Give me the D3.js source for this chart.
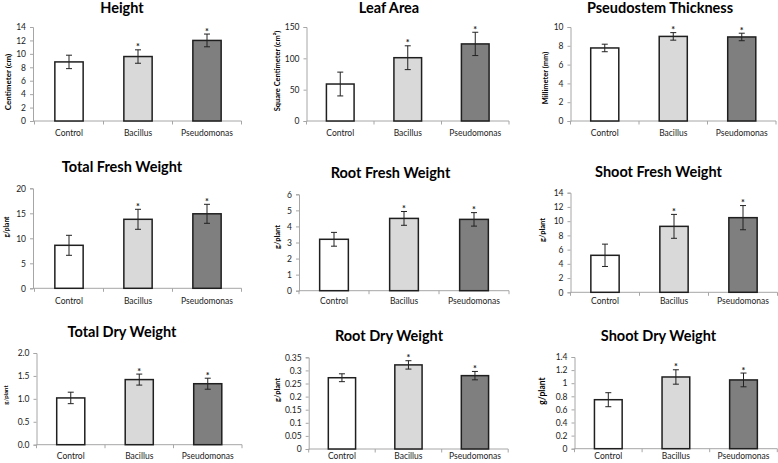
<!DOCTYPE html>
<html>
<head>
<meta charset="utf-8">
<script src="https://cdn.jsdelivr.net/npm/d3@7/dist/d3.min.js"></script>
<style>
  html, body { margin: 0; padding: 0; background: #fff; }
  svg { display: block; }
  text { font-family: Lato, "Open Sans", "Liberation Sans", sans-serif; }
</style>
</head>
<body>
<svg id="chart" width="778" height="463"></svg>
<script>
// ---------- DATA ----------
const categories = ["Control", "Bacillus", "Pseudomonas"];
const barColors = ["#ffffff", "#d9d9d9", "#7f7f7f"];

const titles = ["Height", "Leaf Area", "Pseudostem Thickness",
  "Total Fresh Weight", "Root Fresh Weight", "Shoot Fresh Weight",
  "Total Dry Weight", "Root Dry Weight", "Shoot Dry Weight"];
const yLabels = ["Centimeter (cm)", "Square Centimeter (cm²)", "Millimeter (mm)",
  "g/plant", "g/plant", "g/plant", "g/plant", "g/plant", "g/plant"];

const heightMean = [8.8, 9.6, 12.0];
const heightErr = [1.0, 1.0, 0.95];
const leafAreaMean = [59, 101, 123];
const leafAreaErr = [19, 19, 18.6];
const pseudostemMean = [7.77, 9.0, 8.94];
const pseudostemErr = [0.4, 0.4, 0.4];
const totalFreshMean = [8.6, 13.8, 14.9];
const totalFreshErr = [2.0, 2.0, 1.9];
const rootFreshMean = [3.2, 4.5, 4.44];
const rootFreshErr = [0.43, 0.43, 0.42];
const shootFreshMean = [5.2, 9.27, 10.49];
const shootFreshErr = [1.57, 1.68, 1.7];
const totalDryMean = [1.02, 1.42, 1.33];
const totalDryErr = [0.125, 0.12, 0.12];
const rootDryMean = [0.272, 0.321, 0.28];
const rootDryErr = [0.015, 0.016, 0.016];
const shootDryMean = [0.748, 1.095, 1.05];
const shootDryErr = [0.107, 0.11, 0.105];

const significant = [false, true, true];

const yTicks = [
  [0, 2, 4, 6, 8, 10, 12, 14],
  [0, 50, 100, 150],
  [0, 2, 4, 6, 8, 10],
  [0, 5, 10, 15, 20],
  [0, 1, 2, 3, 4, 5, 6],
  [0, 2, 4, 6, 8, 10, 12, 14],
  [0.0, 0.5, 1.0, 1.5, 2.0],
  [0, 0.05, 0.1, 0.15, 0.2, 0.25, 0.3, 0.35],
  [0, 0.2, 0.4, 0.6, 0.8, 1, 1.2, 1.4]
];
const tickFormats = ["d", "d", "d", "d", "d", "d", ".1f", "~g", "~g"];

const means = [heightMean, leafAreaMean, pseudostemMean, totalFreshMean, rootFreshMean,
  shootFreshMean, totalDryMean, rootDryMean, shootDryMean];
const errs = [heightErr, leafAreaErr, pseudostemErr, totalFreshErr, rootFreshErr,
  shootFreshErr, totalDryErr, rootDryErr, shootDryErr];

// ---------- LAYOUT (pixel frames per panel) ----------
const layout = [
  {ax: 33,    x0: 34.5,  band: 69,   top: 27,    zero: 121,   tx: 122,   ty: 13,   lx: 8,   ly: 82,  ls: 8,   cy: 136},
  {ax: 306.5, x0: 306.5, band: 67.5, top: 27,    zero: 121,   tx: 389,   ty: 13,   lx: 277, ly: 71,  ls: 7.5, cy: 136},
  {ax: 570.5, x0: 570.5, band: 68.5, top: 27,    zero: 121,   tx: 660,   ty: 13,   lx: 545, ly: 78,  ls: 7.5, cy: 136},
  {ax: 33,    x0: 34.5,  band: 69,   top: 188.3, zero: 288.3, tx: 122,   ty: 171.5, lx: 6, ly: 227, ls: 6.5, cy: 304},
  {ax: 299,   x0: 299,   band: 70,   top: 194.3, zero: 290.7, tx: 390.5, ty: 178,  lx: 277, ly: 237, ls: 7.5, cy: 304},
  {ax: 570.5, x0: 570.5, band: 69,   top: 192.7, zero: 292.3, tx: 658.5, ty: 176.5, lx: 542, ly: 230, ls: 7.5, cy: 304},
  {ax: 36.5,  x0: 36.5,  band: 68.5, top: 353,   zero: 444.7, tx: 122,   ty: 337,  lx: 5,   ly: 395, ls: 6,   cy: 459},
  {ax: 308.7, x0: 308.7, band: 66.5, top: 357.3, zero: 449,   tx: 389,   ty: 341,  lx: 277, ly: 390, ls: 7.5, cy: 459},
  {ax: 574.5, x0: 574.5, band: 67.6, top: 357,   zero: 448.7, tx: 658.5, ty: 341,  lx: 542, ly: 391, ls: 8.5, cy: 459}
];

const svg = d3.select("#chart");
const axisColor = "#a6a6a6";

titles.forEach((title, i) => {
  const L = layout[i];
  const g = svg.append("g");
  const ticks = yTicks[i];
  const y = d3.scaleLinear().domain([0, ticks[ticks.length - 1]]).range([L.zero, L.top]);
  const x = d3.scaleBand().domain(categories).range([L.x0, L.x0 + 3 * L.band]);
  const barW = x.bandwidth() * 0.41;

  // y axis
  const yAxis = d3.axisLeft(y).tickValues(ticks).tickSize(3).tickPadding(4)
    .tickFormat(d3.format(tickFormats[i]));
  const ya = g.append("g").attr("transform", `translate(${L.ax},0)`).call(yAxis);
  ya.select(".domain").attr("stroke", axisColor);
  ya.selectAll(".tick line").attr("stroke", axisColor);
  ya.selectAll(".tick text").attr("fill", "#222").style("font-size", "8.5px");

  // x axis line with separators
  g.append("line").attr("x1", L.ax).attr("x2", x.range()[1])
    .attr("y1", L.zero).attr("y2", L.zero).attr("stroke", axisColor);
  const seps = categories.map(c => x(c)).concat([x.range()[1]]);
  g.selectAll(".sep").data(seps).enter().append("line")
    .attr("x1", d => d).attr("x2", d => d)
    .attr("y1", L.zero).attr("y2", L.zero + 3.5).attr("stroke", axisColor);

  // category labels
  g.selectAll(".cat").data(categories).enter().append("text")
    .attr("x", c => x(c) + x.bandwidth() / 2).attr("y", L.cy)
    .attr("text-anchor", "middle").attr("fill", "#222")
    .style("font-size", "8.5px").text(c => c);

  // bars
  const rows = categories.map((c, k) => ({c, v: means[i][k], e: errs[i][k], k}));
  g.selectAll(".bar").data(rows).enter().append("rect")
    .attr("x", d => x(d.c) + (x.bandwidth() - barW) / 2)
    .attr("y", d => y(d.v))
    .attr("width", barW)
    .attr("height", d => y(0) - y(d.v))
    .attr("fill", d => barColors[d.k])
    .attr("stroke", "#1f1f1f").attr("stroke-width", 1.5);

  // error bars
  const cap = 3;
  rows.forEach(d => {
    const cx = x(d.c) + x.bandwidth() / 2;
    g.append("line").attr("x1", cx).attr("x2", cx)
      .attr("y1", y(d.v + d.e)).attr("y2", y(d.v - d.e))
      .attr("stroke", "#222").attr("stroke-width", 1);
    [d.v + d.e, d.v - d.e].forEach(v => {
      g.append("line").attr("x1", cx - cap).attr("x2", cx + cap)
        .attr("y1", y(v)).attr("y2", y(v))
        .attr("stroke", "#222").attr("stroke-width", 1);
    });
    if (significant[d.k]) {
      g.append("text").attr("x", cx).attr("y", y(d.v + d.e) + 0.5)
        .attr("text-anchor", "middle").attr("fill", "#222")
        .style("font-size", "9px").style("font-weight", "bold").text("*");
    }
  });

  // title
  g.append("text").attr("x", L.tx).attr("y", L.ty).attr("text-anchor", "middle")
    .attr("fill", "#000").style("font-size", "14.5px").style("font-weight", "bold")
    .text(title);

  // y label
  g.append("text").attr("transform", `translate(${L.lx},${L.ly}) rotate(-90)`)
    .attr("text-anchor", "middle").attr("dominant-baseline", "central")
    .attr("fill", "#000").style("font-size", L.ls + "px").style("font-weight", "bold")
    .text(yLabels[i]);
});
</script>
</body>
</html>
